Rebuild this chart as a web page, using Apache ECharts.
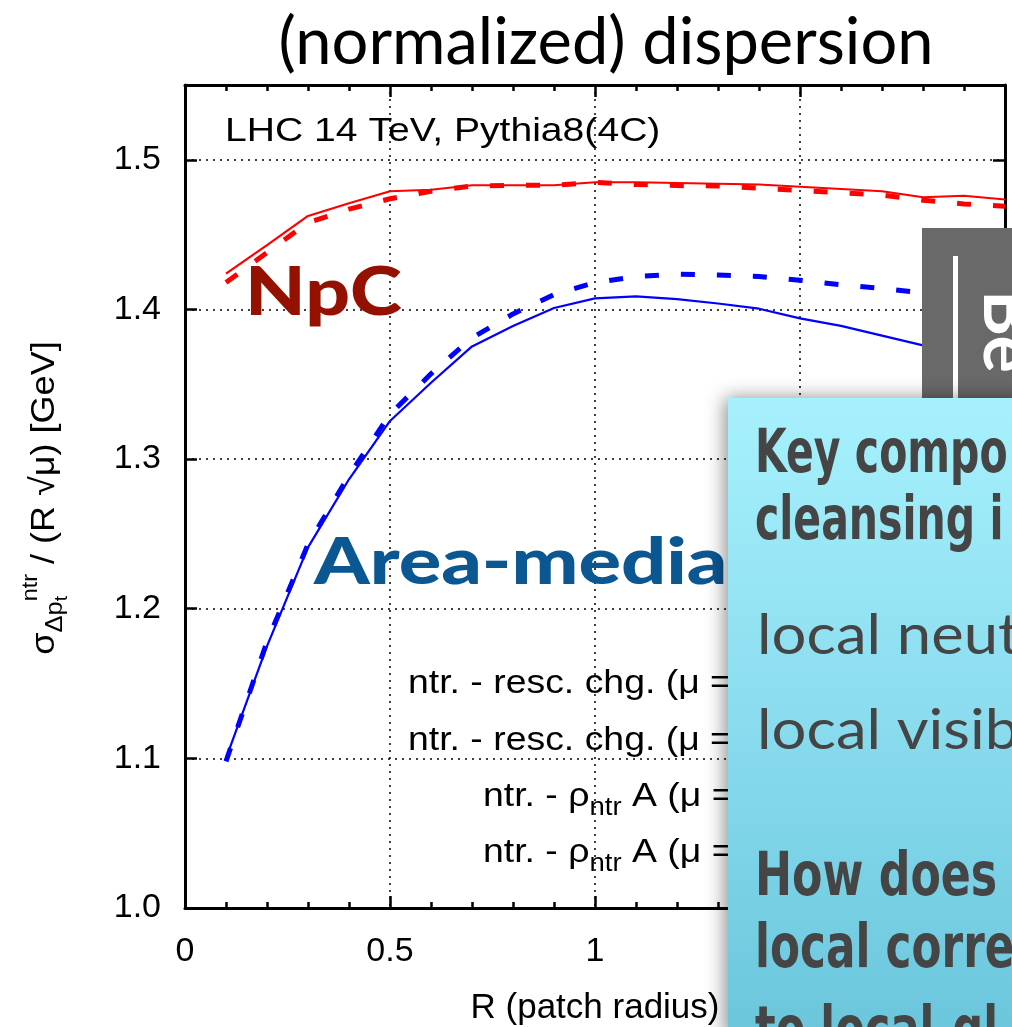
<!DOCTYPE html>
<html>
<head>
<meta charset="utf-8">
<script src="https://cdn.jsdelivr.net/npm/echarts@6/dist/echarts.min.js"></script>
<style>
html,body{margin:0;padding:0;background:#fff;overflow:hidden}
#c{width:1012px;height:1027px}
</style>
</head>
<body>
<div id="c"></div>
<script>
// ---- data ----
const xValues = [0.1,0.2,0.3,0.4,0.5,0.6,0.7,0.8,0.9,1.0,1.1,1.2,1.3,1.4,1.5,1.6,1.7,1.8,1.9,2.0];
const npcSolid   = [1.424,1.443,1.4625,1.471,1.479,1.480,1.483,1.483,1.483,1.485,1.485,1.4845,1.484,1.4835,1.482,1.4805,1.479,1.475,1.476,1.4735];
const npcDashed  = [1.418,1.438,1.458,1.467,1.474,1.479,1.4825,1.483,1.483,1.485,1.4835,1.4828,1.4825,1.481,1.4795,1.478,1.4765,1.473,1.4705,1.469];
const areaSolid  = [1.100,1.175,1.241,1.2865,1.3255,1.351,1.3753,1.389,1.401,1.4074,1.4087,1.4069,1.404,1.4005,1.394,1.389,1.3825,1.376];
const areaDashed = [1.098,1.178,1.243,1.289,1.330,1.357,1.381,1.397,1.410,1.418,1.422,1.4235,1.423,1.422,1.4195,1.4165,1.414,1.411];
const xTickLabels = ['0','0.5','1','1.5','2'];
const yTickLabels = ['1.0','1.1','1.2','1.3','1.4','1.5'];
const legendRows = ['ntr. - resc. chg. (\u03bc =','ntr. - resc. chg. (\u03bc =','ntr. - \u03c1|ntr| A (\u03bc =','ntr. - \u03c1|ntr| A (\u03bc ='];
const boxLines = ['Key compo','cleansing i','local neut','local visib','How does','local corre','to local-gl'];

const pairs = arr => arr.map((v,i)=>[xValues[i], v]);

const HF = "'Liberation Sans', Arial, Helvetica, sans-serif";
const GF = "Lato, 'Open Sans', sans-serif";
const cv = document.createElement('canvas').getContext('2d');
function tw(text, font){ cv.font = font; return cv.measureText(text).width; }

function pieceGroup(pieces, family, color){
  const ch = []; let x = 0; let stackStart = null;
  pieces.forEach(p => {
    const [t, size, dy, mode] = p;
    const font = size + 'px ' + family;
    let px;
    if (mode === 'stack') { px = stackStart; }
    else { px = x; stackStart = x; }
    ch.push({type:'text', x:px, y:dy, style:{text:t, font:font, fill:color, align:'left', verticalAlign:'middle', textAlign:'left', textVerticalAlign:'middle'}});
    const w = tw(t, font);
    if (mode === 'stack') { x = Math.max(x, px + w); } else { x = px + w; }
  });
  return {children: ch, width: x};
}

const yl = pieceGroup([
  ['\u03c3', 34, 0, 'n'],
  ['\u0394p', 24, 10, 'n'],
  ['t', 18, 17, 'n'],
  ['ntr', 22, -14, 'stack'],
  [' / (R \u221a\u03bc) [GeV]', 34, 0, 'n']
], HF, '#000');

function legendRow(text){
  if (text.indexOf('|') < 0) return pieceGroup([[text, 34, 0, 'n']], HF, '#000');
  const parts = text.split('|');
  return pieceGroup([[parts[0], 34, 0, 'n'], [parts[1], 25, 11, 'n'], [parts[2], 34, 0, 'n']], HF, '#000');
}
const legendX = [408, 408, 483, 483];
const legendY = [684, 741, 797, 853];

const graphics = [];
graphics.push({type:'text', x:606, y:43, z:100, style:{text:'(normalized) dispersion', font:'65px '+GF, fill:'#000', align:'center', verticalAlign:'middle', textAlign:'center', textVerticalAlign:'middle'}});
graphics.push({type:'group', x:45, y:498 + yl.width*1.06/2, rotation:Math.PI/2, scaleX:1.06, z:100, children: yl.children});
graphics.push({type:'text', x:225, y:132, scaleX:1.15, z:100, style:{text:'LHC 14 TeV, Pythia8(4C)', font:'34px '+HF, fill:'#000', align:'left', verticalAlign:'middle', textAlign:'left', textVerticalAlign:'middle'}});
graphics.push({type:'text', x:245, y:294, scaleX:1.19, z:100, style:{text:'NpC', font:'900 66px '+GF, fill:'#941100', align:'left', verticalAlign:'middle', textAlign:'left', textVerticalAlign:'middle'}});
graphics.push({type:'text', x:314, y:563, scaleX:1.24, z:100, style:{text:'Area-median', font:'900 64px '+GF, fill:'#0a5792', align:'left', verticalAlign:'middle', textAlign:'left', textVerticalAlign:'middle'}});
legendRows.forEach((r,i)=>{
  const g = legendRow(r);
  graphics.push({type:'group', x:legendX[i], y:legendY[i], scaleX:1.1, z:100, children:g.children});
});
graphics.push({type:'rect', z:110, shape:{x:922, y:228, width:100, height:200}, style:{fill:'#696969'}});
graphics.push({type:'rect', z:111, shape:{x:953, y:256, width:5, height:170}, style:{fill:'#ffffff'}});
graphics.push({type:'text', z:111, x:1007, y:290, rotation:-Math.PI/2, style:{text:'Be', font:'bold 70px '+GF, fill:'#ffffff', align:'left', verticalAlign:'middle', textAlign:'left', textVerticalAlign:'middle'}});
graphics.push({type:'rect', z:120, shape:{x:728, y:398, width:300, height:640},
  style:{fill:new echarts.graphic.LinearGradient(0,0,0,1,[{offset:0,color:'#a7f1fd'},{offset:0.5,color:'#8adcee'},{offset:1,color:'#6ac6dc'}]),
         shadowBlur:18, shadowColor:'rgba(0,0,0,0.45)', shadowOffsetX:-3, shadowOffsetY:0}});
const NF = "'Liberation Sans Narrow', 'DejaVu Sans Condensed', sans-serif";
const boxStyle = [
  {x:755, y:456, font:'bold 60px '+NF, sx:0.76},
  {x:755, y:523, font:'bold 60px '+NF, sx:0.76},
  {x:757, y:636, font:'56px '+GF, sx:1.1},
  {x:757, y:731, font:'56px '+GF, sx:1.1},
  {x:755, y:879, font:'bold 60px '+NF, sx:0.82},
  {x:755, y:951, font:'bold 60px '+NF, sx:0.81},
  {x:755, y:1033, font:'bold 60px '+NF, sx:0.8}
];
boxLines.forEach((t,i)=>{
  const s = boxStyle[i];
  graphics.push({type:'text', z:121, x:s.x, y:s.y, scaleX:s.sx, style:{text:t, font:s.font, fill:'#454545', align:'left', verticalAlign:'middle', textAlign:'left', textVerticalAlign:'middle'}});
});

const dotted = {color:'#000', width:1.5, type:[2,5]};
const axisCommon = {
  axisLine:{show:true, onZero:false, lineStyle:{color:'#000', width:3}},
  axisTick:{show:true, inside:true, length:12, lineStyle:{color:'#000', width:2.5}}
};

const option = {
  animation:false,
  backgroundColor:'#fff',
  grid:{left:185, right:7, top:85, bottom:119, containLabel:false, outerBoundsMode:'none'},
  xAxis:[
    Object.assign({type:'value', position:'bottom', min:0, max:2, interval:0.5,
      minorTick:{show:true, splitNumber:5, length:6, lineStyle:{color:'#000', width:2.5}},
      splitLine:{show:true, lineStyle:dotted},
      axisLabel:{show:true, margin:27, fontSize:34, fontFamily:HF, color:'#000',
        formatter:(v)=>{ const i = Math.round(v/0.5); return xTickLabels[i] !== undefined ? xTickLabels[i] : ''; }},
      name:'R (patch radius)', nameLocation:'middle', nameGap:83,
      nameTextStyle:{fontSize:35, fontFamily:HF, color:'#000'}}, axisCommon),
    Object.assign({type:'value', position:'top', min:0, max:2, interval:0.5,
      minorTick:{show:true, splitNumber:5, length:6, lineStyle:{color:'#000', width:2.5}},
      splitLine:{show:false}, axisLabel:{show:false}}, axisCommon)
  ],
  yAxis:[
    Object.assign({type:'value', position:'left', min:1.0, max:1.55, interval:0.1,
      splitLine:{show:true, lineStyle:dotted},
      axisLabel:{show:true, margin:24, fontSize:34, fontFamily:HF, color:'#000',
        formatter:(v)=>{ const i = Math.round((v-1.0)/0.1); return (Math.abs(v-(1.0+i*0.1))<1e-6 && yTickLabels[i]) ? yTickLabels[i] : ''; }}}, axisCommon),
    Object.assign({type:'value', position:'right', min:1.0, max:1.55, interval:0.1,
      splitLine:{show:false}, axisLabel:{show:false}}, axisCommon)
  ],
  series:[
    {type:'line', name:'NpC solid', data:pairs(npcSolid), showSymbol:false, symbol:'none', lineStyle:{color:'#ff0000', width:2.2, type:'solid'}, z:5},
    {type:'line', name:'NpC dashed', data:pairs(npcDashed), showSymbol:false, symbol:'none', lineStyle:{color:'#ff0000', width:5, type:[14,22]}, z:5},
    {type:'line', name:'Area solid', data:pairs(areaSolid), showSymbol:false, symbol:'none', lineStyle:{color:'#0000ff', width:2.2, type:'solid'}, z:5},
    {type:'line', name:'Area dashed', data:pairs(areaDashed), showSymbol:false, symbol:'none', lineStyle:{color:'#0000ff', width:5, type:[14,22]}, z:5}
  ],
  graphic:{elements:graphics}
};
const chart = echarts.init(document.getElementById('c'), null, {renderer:'canvas', width:1012, height:1027});
chart.setOption(option);
</script>
</body>
</html>
